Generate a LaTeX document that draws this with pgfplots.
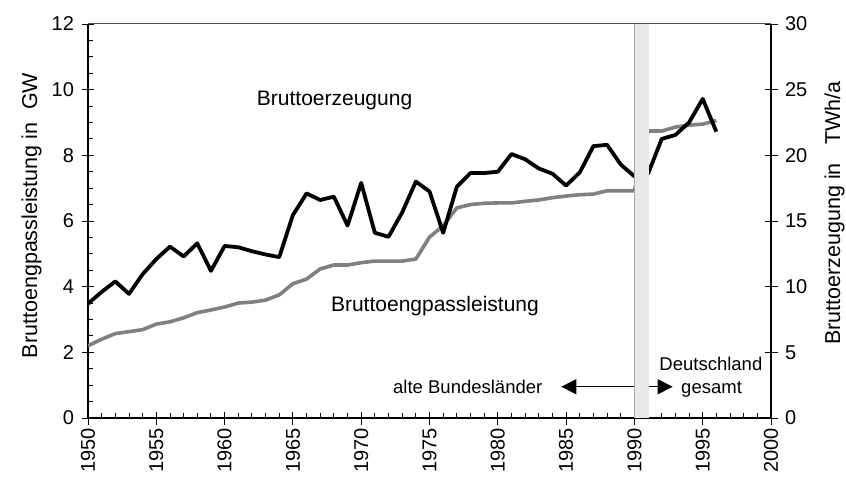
\documentclass[border=0pt]{standalone}
\usepackage{pgfplots}
\pgfplotsset{compat=1.18}
\usepackage{fontspec}
\setmainfont{Liberation Sans}
\usetikzlibrary{arrows.meta}
\definecolor{linegray}{HTML}{808080}
\definecolor{bandgray}{HTML}{E8E8E8}
\definecolor{bandedge}{HTML}{A8A8A8}
\definecolor{framegray}{HTML}{505050}

\pgfplotstableread{
year gw
1950 2.20
1951 2.40
1952 2.57
1953 2.63
1954 2.69
1955 2.86
1956 2.93
1957 3.05
1958 3.21
1959 3.29
1960 3.38
1961 3.50
1962 3.53
1963 3.59
1964 3.75
1965 4.09
1966 4.23
1967 4.54
1968 4.66
1969 4.66
1970 4.73
1971 4.78
1972 4.78
1973 4.78
1974 4.84
1975 5.51
1976 5.85
1977 6.40
1978 6.50
1979 6.54
1980 6.55
1981 6.55
1982 6.60
1983 6.64
1984 6.71
1985 6.76
1986 6.80
1987 6.82
1988 6.92
1989 6.92
1990 6.92
1991 8.74
1992 8.74
1993 8.86
1994 8.92
1995 8.95
1996 9.06
}\leistung

\pgfplotstableread{
year twh
1950 8.70
1951 9.60
1952 10.40
1953 9.45
1954 10.95
1955 12.10
1956 13.05
1957 12.30
1958 13.30
1959 11.20
1960 13.10
1961 13.00
1962 12.70
1963 12.45
1964 12.25
1965 15.45
1966 17.10
1967 16.60
1968 16.85
1969 14.65
1970 17.90
1971 14.10
1972 13.80
1973 15.65
1974 18.00
1975 17.25
1976 14.10
1977 17.60
1978 18.65
1979 18.65
1980 18.75
1981 20.10
1982 19.70
1983 19.00
1984 18.60
1985 17.70
1986 18.70
1987 20.70
1988 20.80
1989 19.30
1990 18.40
1991 18.60
1992 21.25
1993 21.55
1994 22.50
1995 24.30
1996 21.80
}\erzeugung

\begin{document}
\begin{tikzpicture}
\pgfplotsset{
  base/.style={
    width=683bp, height=394bp, scale only axis,
    at={(0,0)}, anchor=south west,
    xmin=1950, xmax=2000,
    /pgf/number format/assume math mode=true,
    tick label style={font=\fontsize{20bp}{22bp}\selectfont},
    tick align=center,
    major tick length=13bp,
    tick style={black, line width=0.9bp},
    axis line style={black, line width=1.2bp, -},
  }
}
\begin{axis}[base,
  ymin=0, ymax=12,
  axis x line*=bottom, axis y line*=left,
  xtick={1950,1955,...,2000},
  minor x tick num=4,
  ytick={0,2,...,12},
  minor y tick num=3,
  minor tick length=5bp,
  minor x tick style={yshift=2.5bp},
  minor y tick style={xshift=2.5bp},
  xticklabel style={rotate=90, anchor=east, /pgf/number format/1000 sep={}},
  yticklabel style={xshift=-4bp},
  every axis y label/.style={at={(rel axis cs:-0.0827,0.514)}, rotate=90, anchor=center},
  ylabel={\fontsize{21.5bp}{24bp}\selectfont Bruttoengpassleistung in\hspace{0.6em}GW},
]
\addplot[linegray, line width=3.6bp, line join=round] table[x=year,y=gw]{\leistung};
\end{axis}
\begin{axis}[base,
  ymin=0, ymax=30,
  axis x line=none, axis y line*=right,
  ytick={0,5,...,30},
  yticklabel style={xshift=4bp},
  every axis y label/.style={at={(rel axis cs:1.093,0.52)}, rotate=90, anchor=center},
  ylabel={\fontsize{21.5bp}{24bp}\selectfont Bruttoerzeugung in\hspace{0.85em}TWh/a},
  clip=false,
]
\addplot[black, line width=3.8bp, line join=round] table[x=year,y=twh]{\erzeugung};
\draw[black, line width=0.9bp, -{Triangle[length=15bp,width=15bp]}] (axis cs:1990,2.38) -- (axis cs:1984.65,2.38);
\draw[black, line width=0.9bp, -{Triangle[length=15bp,width=15bp]}] (axis cs:1991,2.38) -- (axis cs:1992.8,2.38);
\fill[bandgray] (axis cs:1990,0) rectangle (axis cs:1991.1,30);
\draw[bandedge, line width=0.8bp] (axis cs:1990,0) -- (axis cs:1990,30);
\draw[framegray, line width=1bp] (rel axis cs:0,1) -- (rel axis cs:1,1);
\node[font=\fontsize{21bp}{24bp}\selectfont, anchor=base] at (axis cs:1968.05,23.8) {Bruttoerzeugung};
\node[font=\fontsize{21bp}{24bp}\selectfont, anchor=base] at (axis cs:1975.4,8.08) {Bruttoengpassleistung};
\node[font=\fontsize{18.5bp}{22bp}\selectfont, anchor=base] at (axis cs:1977.8,1.83) {alte Bundesländer};
\node[font=\fontsize{18.5bp}{22bp}\selectfont, anchor=base] at (axis cs:1995.6,3.6) {Deutschland};
\node[font=\fontsize{18.5bp}{22bp}\selectfont, anchor=base] at (axis cs:1995.65,1.83) {gesamt};
\end{axis}
\pgfresetboundingbox
\path (-88bp,-59bp) rectangle (758bp,418bp);
\end{tikzpicture}
\end{document}
